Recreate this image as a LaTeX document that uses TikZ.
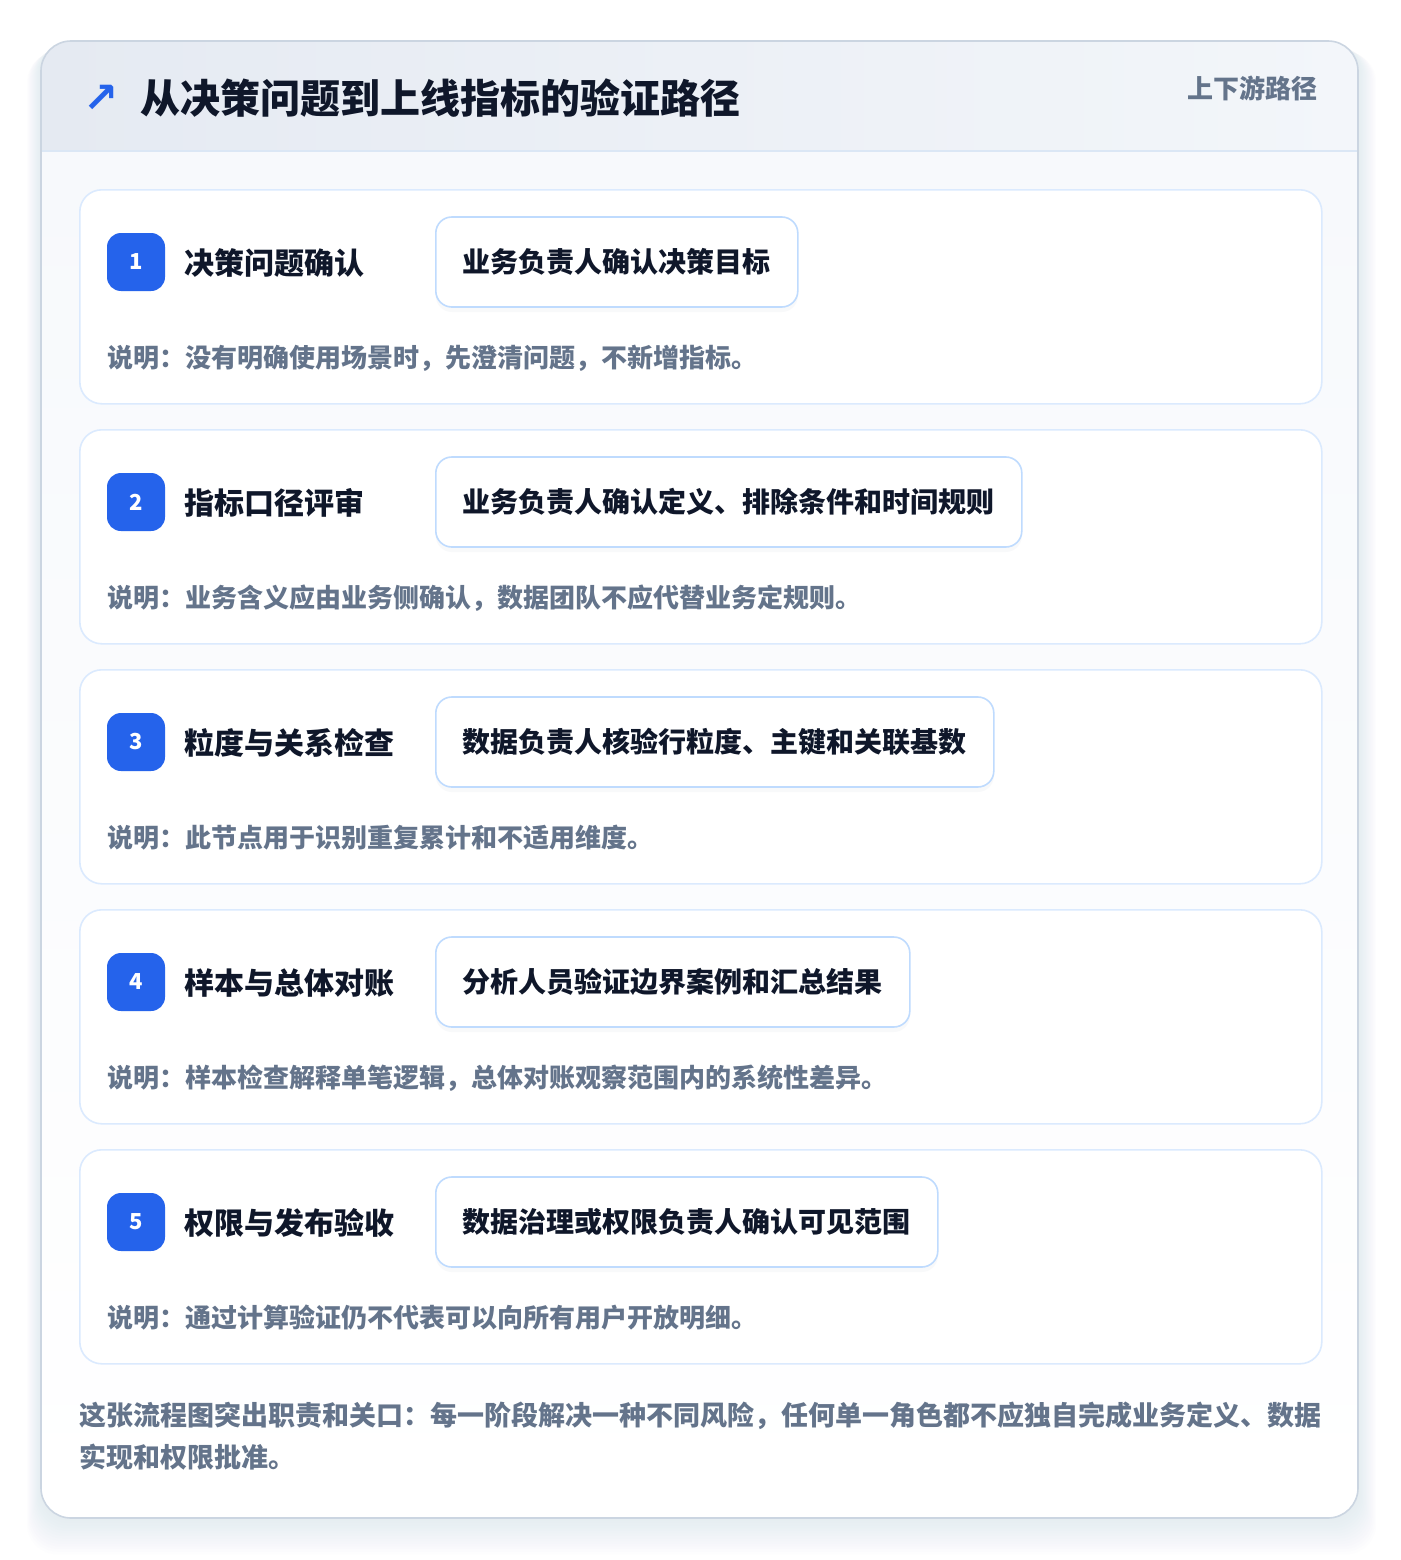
\documentclass[tikz,border=0pt]{standalone}
\usepackage{fontspec}
\setmainfont{Noto Sans CJK SC}
\newfontfamily\symfont{DejaVu Sans}
\usetikzlibrary{shadows}
\definecolor{ink}{HTML}{0F172A}
\definecolor{muted}{HTML}{64748B}
\definecolor{brand}{HTML}{2563EB}
\definecolor{cardline}{HTML}{CBD5E1}
\definecolor{stepline}{HTML}{DBEAFE}
\definecolor{boxline}{HTML}{BFDBFE}
\definecolor{headL}{HTML}{E5EAF2}
\definecolor{headR}{HTML}{F3F6FA}
\definecolor{headrule}{HTML}{DBE7F5}
\definecolor{bodytop}{HTML}{F7F9FC}
\definecolor{shadowc}{HTML}{94A3B8}
\tikzset{
  txt/.style={inner sep=0pt, anchor=base west, font=\bfseries},
  stepcard/.style={draw=stepline, line width=1.6pt, fill=white, rounded corners=22pt, inner sep=0pt, anchor=north west, minimum width=1242pt, minimum height=214pt},
  badge/.style={fill=brand, rounded corners=14pt, minimum width=58pt, minimum height=58pt, inner sep=0pt},
  rolebox/.style={draw=boxline, line width=1.6pt, fill=white, rounded corners=16pt, inner xsep=27pt, inner ysep=0pt, minimum height=90pt, anchor=west, font=\bfseries\fontsize{28pt}{34pt}\selectfont, text=ink, drop shadow={opacity=0.06, shadow xshift=0pt, shadow yshift=-5pt, fill=shadowc}},
}
\newcommand\stepcardrow[6]{%
  % #1 index, #2 top y, #3 title, #4 role text, #5 desc, #6 name
  \node[stepcard] (card#6) at (79,#2) {};
  \node[badge] (badge#6) at (136,#2+73) {};
  \node[text=white, inner sep=0pt, font=\bfseries\fontsize{22pt}{24pt}\selectfont] (num#6) at (136,#2+73) {#1};
  \node[txt, text=ink, font=\bfseries\fontsize{30pt}{36pt}\selectfont] (title#6) at (184,#2+85) {#3};
  \node[rolebox] (role#6) at (435,#2+73) {#4};
  \node[txt, text=muted, font=\bfseries\fontsize{26pt}{30pt}\selectfont] (desc#6) at (107,#2+178) {#5};
}
\begin{document}
\begin{tikzpicture}[x=1pt,y=-1pt]
\useasboundingbox (0,0) rectangle (1400,1560);
\fill[white] (0,0) rectangle (1400,1560);
% outer soft shadow
\foreach \i in {1,...,14}{
  \fill[shadowc, opacity=0.013, rounded corners=30pt] (41-\i*1.0,41+\i*0.8) rectangle (1358+\i*1.3,1518+\i*2.6);
}
% card body
\fill[bodytop, rounded corners=30pt] (41,41) rectangle (1358,1518);
\begin{scope}
  \clip[rounded corners=30pt] (41,41) rectangle (1358,1518);
  \shade[top color=bodytop, bottom color=white] (41,151) rectangle (1358,1518);
  \shade[left color=headL, right color=headR] (41,41) rectangle (1358,151);
\end{scope}
\draw[headrule, line width=1.6pt] (41,151) -- (1358,151);
\draw[cardline, line width=1.6pt, rounded corners=30pt] (41,41) rectangle (1358,1518);
% header
\node[inner sep=0pt, text=brand, font=\symfont\bfseries\fontsize{42pt}{48pt}\selectfont] (arrow) at (101,99) {↗};
\node[txt, text=ink, font=\bfseries\fontsize{40pt}{48pt}\selectfont] (title) at (140,113.5) {从决策问题到上线指标的验证路径};
\node[txt, anchor=base east, text=muted, font=\bfseries\fontsize{26pt}{30pt}\selectfont] (tag) at (1318,99) {上下游路径};
% steps
\stepcardrow{1}{189}{决策问题确认}{业务负责人确认决策目标}{说明：没有明确使用场景时，先澄清问题，不新增指标。}{A}
\stepcardrow{2}{429}{指标口径评审}{业务负责人确认定义、排除条件和时间规则}{说明：业务含义应由业务侧确认，数据团队不应代替业务定规则。}{B}
\stepcardrow{3}{669}{粒度与关系检查}{数据负责人核验行粒度、主键和关联基数}{说明：此节点用于识别重复累计和不适用维度。}{C}
\stepcardrow{4}{909}{样本与总体对账}{分析人员验证边界案例和汇总结果}{说明：样本检查解释单笔逻辑，总体对账观察范围内的系统性差异。}{D}
\stepcardrow{5}{1149}{权限与发布验收}{数据治理或权限负责人确认可见范围}{说明：通过计算验证仍不代表可以向所有用户开放明细。}{E}
% footer
\node[txt, text=muted, font=\bfseries\fontsize{27pt}{32pt}\selectfont] (foot1) at (79,1425) {这张流程图突出职责和关口：每一阶段解决一种不同风险，任何单一角色都不应独自完成业务定义、数据};
\node[txt, text=muted, font=\bfseries\fontsize{27pt}{32pt}\selectfont] (foot2) at (79,1467) {实现和权限批准。};
\end{tikzpicture}
\end{document}
